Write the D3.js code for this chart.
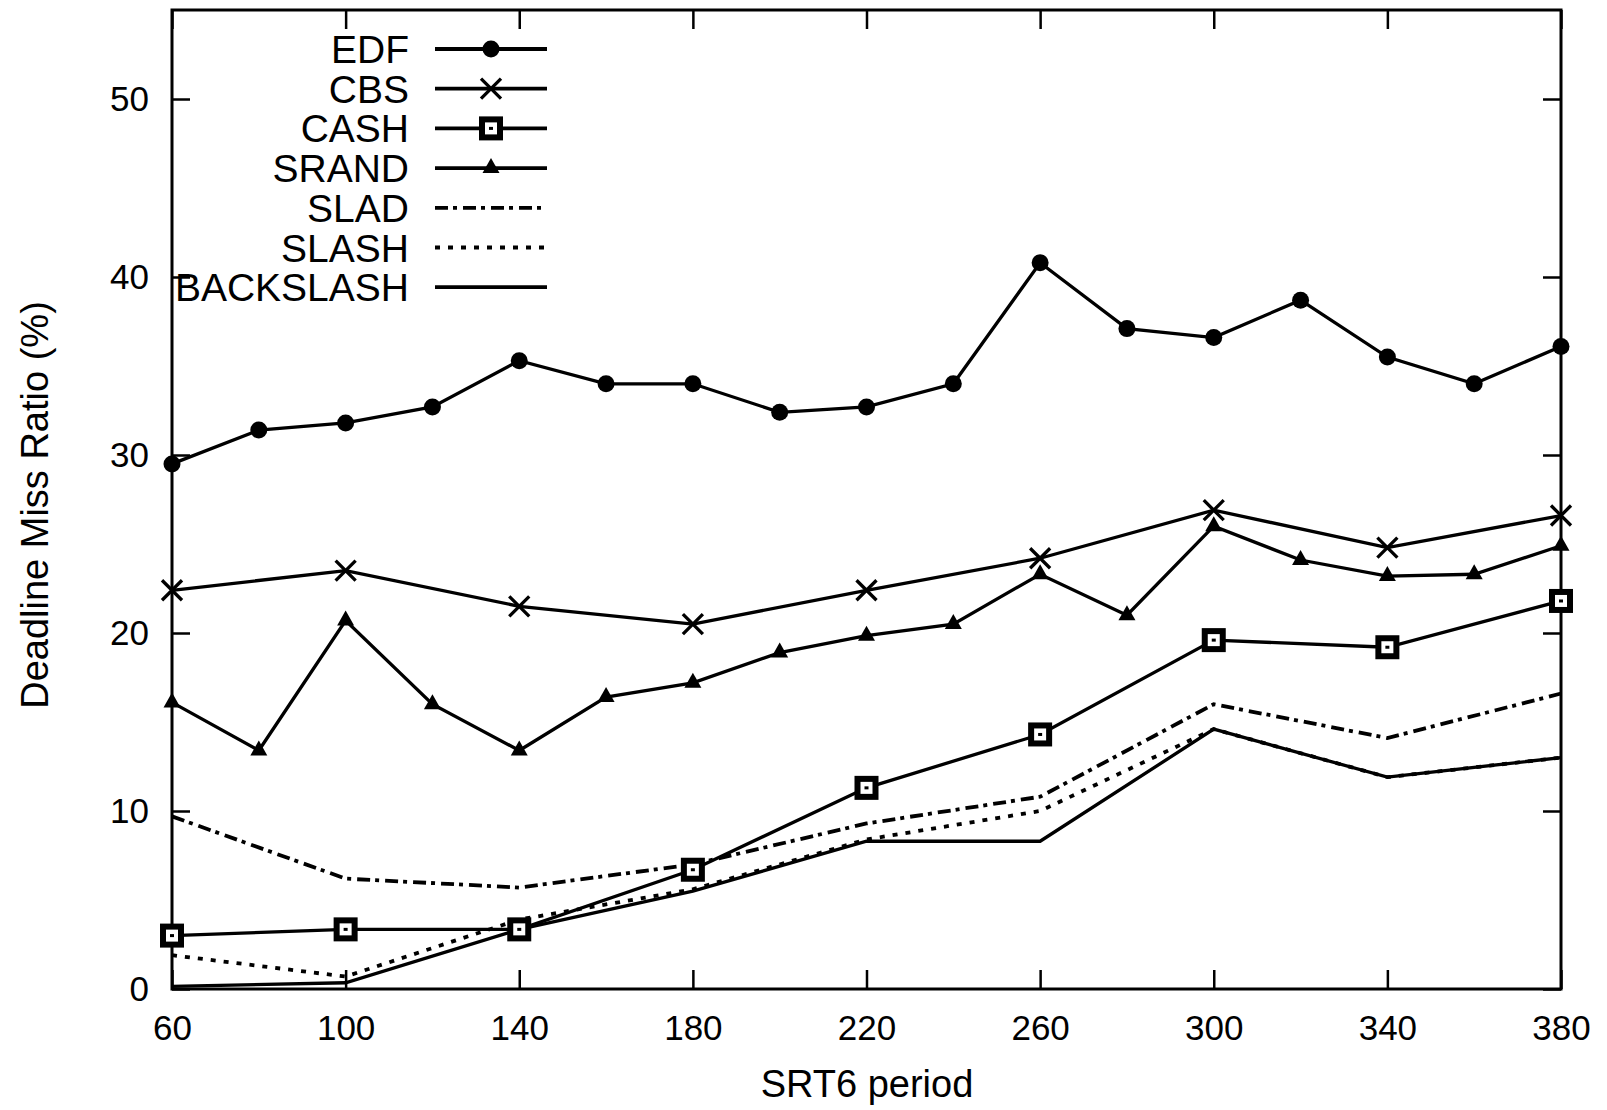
<!DOCTYPE html>
<html lang="en">
<head>
<meta charset="utf-8">
<script src="https://d3js.org/d3.v7.min.js"></script>
<style>
  body { margin: 0; background: #fff; }
  text { font-family: "Liberation Sans", Arial, sans-serif; fill: #000; }
</style>
</head>
<body>
<div id="container"></div>
<script>
// x values (SRT6 period)
var periods20 = [60, 80, 100, 120, 140, 160, 180, 200, 220, 240, 260, 280, 300, 320, 340, 360, 380];
var periods40 = [60, 100, 140, 180, 220, 260, 300, 340, 380];

// deadline miss ratio (%)
var edf = [29.5, 31.4, 31.8, 32.7, 35.3, 34.0, 34.0, 32.4, 32.7, 34.0, 40.8, 37.1, 36.6, 38.7, 35.5, 34.0, 36.1];
var srand = [16.1, 13.4, 20.7, 16.0, 13.4, 16.4, 17.2, 18.9, 19.85, 20.5, 23.3, 21.0, 26.0, 24.1, 23.2, 23.3, 24.9];
var cbs = [22.4, 23.5, 21.5, 20.5, 22.4, 24.2, 26.9, 24.8, 26.6];
var cash = [3.0, 3.35, 3.35, 6.7, 11.3, 14.3, 19.6, 19.2, 21.8];
var slad = [9.7, 6.2, 5.7, 7.0, 9.3, 10.8, 16.0, 14.1, 16.6];
var slash = [1.9, 0.7, 3.9, 5.6, 8.4, 10.0, 14.6, 11.9, 13.0];
var backslash = [0.15, 0.35, 3.35, 5.5, 8.3, 8.3, 14.6, 11.9, 13.0];

var xTicks = [60, 100, 140, 180, 220, 260, 300, 340, 380];
var yTicks = [0, 10, 20, 30, 40, 50];

var W = 1607, H = 1110;
var plotL = 172, plotR = 1561, plotT = 10, plotB = 989;

var svg = d3.select("#container").append("svg")
    .attr("width", W).attr("height", H);

var x = d3.scaleLinear().domain([60, 380]).range([plotL, plotR]);
var y = d3.scaleLinear().domain([0, 55]).range([plotB, plotT]);

function styleAxis(g) {
  g.select(".domain").remove();
  g.selectAll(".tick line").attr("stroke", "#000").attr("stroke-width", 2.5);
  g.selectAll(".tick text").style("font-size", "35px").attr("fill", "#000");
}

// axes, ticks inward and mirrored
svg.append("g").attr("transform", "translate(0," + plotB + ")")
    .call(d3.axisBottom(x).tickValues(xTicks).tickSizeInner(-19).tickSizeOuter(0).tickPadding(26))
    .call(styleAxis);
svg.append("g").attr("transform", "translate(0," + plotT + ")")
    .call(d3.axisTop(x).tickValues(xTicks).tickSizeInner(-19).tickSizeOuter(0).tickFormat(""))
    .call(styleAxis);
svg.append("g").attr("transform", "translate(" + plotL + ",0)")
    .call(d3.axisLeft(y).tickValues(yTicks).tickSizeInner(-18).tickSizeOuter(0).tickPadding(23))
    .call(styleAxis);
svg.append("g").attr("transform", "translate(" + plotR + ",0)")
    .call(d3.axisRight(y).tickValues(yTicks).tickSizeInner(-18).tickSizeOuter(0).tickFormat(""))
    .call(styleAxis);

svg.append("rect")
    .attr("x", plotL).attr("y", plotT)
    .attr("width", plotR - plotL).attr("height", plotB - plotT)
    .attr("fill", "none").attr("stroke", "#000").attr("stroke-width", 3);

// axis titles
svg.append("text")
    .attr("x", 867).attr("y", 1097)
    .attr("text-anchor", "middle").style("font-size", "38px")
    .text("SRT6 period");
svg.append("text")
    .attr("transform", "translate(48,505) rotate(-90)")
    .attr("text-anchor", "middle").style("font-size", "38px")
    .text("Deadline Miss Ratio (%)");

var series = [
  {name: "BACKSLASH", xs: periods40, ys: backslash, dash: null, marker: null},
  {name: "SLASH", xs: periods40, ys: slash, dash: "5,8", marker: null},
  {name: "SLAD", xs: periods40, ys: slad, dash: "13,5,4,6", marker: null},
  {name: "SRAND", xs: periods20, ys: srand, dash: null, marker: "triangle"},
  {name: "CASH", xs: periods40, ys: cash, dash: null, marker: "square"},
  {name: "CBS", xs: periods40, ys: cbs, dash: null, marker: "x"},
  {name: "EDF", xs: periods20, ys: edf, dash: null, marker: "circle"}
];

var line = d3.line().x(function(d) { return x(d[0]); }).y(function(d) { return y(d[1]); });

function drawMarker(g, type, cx, cy) {
  if (type === "circle") {
    g.append("circle").attr("cx", cx).attr("cy", cy).attr("r", 8.5).attr("fill", "#000");
  } else if (type === "x") {
    g.append("path")
      .attr("d", "M" + (cx - 10) + "," + (cy - 10) + "L" + (cx + 10) + "," + (cy + 10) +
                 "M" + (cx - 10) + "," + (cy + 10) + "L" + (cx + 10) + "," + (cy - 10))
      .attr("stroke", "#000").attr("stroke-width", 3.3).attr("fill", "none");
  } else if (type === "square") {
    g.append("rect").attr("x", cx - 9).attr("y", cy - 9).attr("width", 18).attr("height", 18)
      .attr("fill", "#fff").attr("stroke", "#000").attr("stroke-width", 6);
    g.append("rect").attr("x", cx - 2).attr("y", cy - 1.5).attr("width", 4).attr("height", 3).attr("fill", "#000");
  } else if (type === "triangle") {
    g.append("path")
      .attr("d", "M" + cx + "," + (cy - 10) + "L" + (cx + 8.5) + "," + (cy + 5) + "L" + (cx - 8.5) + "," + (cy + 5) + "Z")
      .attr("fill", "#000");
  }
}

series.forEach(function(s) {
  var pts = s.xs.map(function(v, i) { return [v, s.ys[i]]; });
  var g = svg.append("g");
  g.append("path").datum(pts)
    .attr("d", line)
    .attr("fill", "none").attr("stroke", "#000").attr("stroke-width", s.dash ? 3.8 : 3.3)
    .attr("stroke-linejoin", "miter")
    .attr("stroke-dasharray", s.dash);
  if (s.marker) {
    pts.forEach(function(p) { drawMarker(g, s.marker, x(p[0]), y(p[1])); });
  }
});

// legend
var legendOrder = ["EDF", "CBS", "CASH", "SRAND", "SLAD", "SLASH", "BACKSLASH"];
legendOrder.forEach(function(name, i) {
  var s = series.filter(function(d) { return d.name === name; })[0];
  var ly = 49 + i * 39.7;
  var g = svg.append("g");
  g.append("text").attr("x", 409).attr("y", ly + 14)
    .attr("text-anchor", "end").style("font-size", "39px").text(name);
  g.append("line").attr("x1", 435).attr("x2", 547).attr("y1", ly).attr("y2", ly)
    .attr("stroke", "#000").attr("stroke-width", 3.8)
    .attr("stroke-dasharray", s.dash);
  if (s.marker) drawMarker(g, s.marker, 491, ly);
});
</script>
</body>
</html>
